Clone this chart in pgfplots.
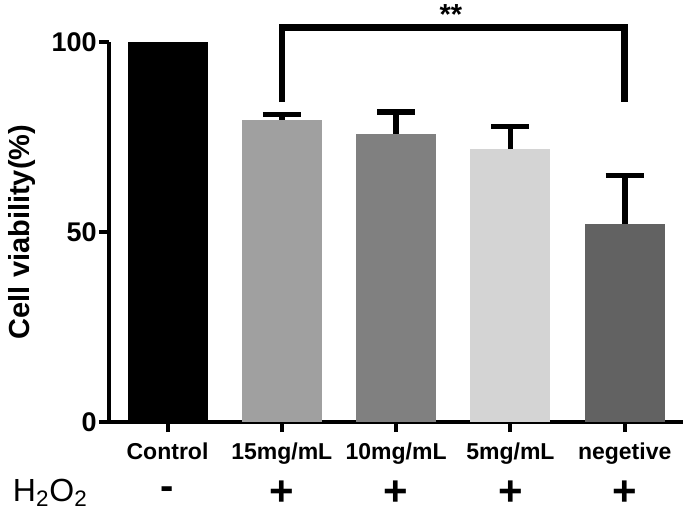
\documentclass[border=0pt]{standalone}
\usepackage{pgfplots}
\pgfplotsset{compat=1.18}
\usepackage{fontspec}
\setmainfont{Liberation Sans}
\definecolor{cA}{RGB}{160,160,160}
\definecolor{cB}{RGB}{128,128,128}
\definecolor{cC}{RGB}{212,212,212}
\definecolor{cD}{RGB}{98,98,98}
\pgfplotsset{
  myerr/.style={error bars/.cd, y dir=plus, y explicit, error mark=|,
    error bar style={line width=2.8pt, black, solid},
    error mark options={line width=2.6pt, mark size=9.5pt, black, solid}}
}
\begin{document}
\begin{tikzpicture}
\useasboundingbox (-54.5pt,-45.5pt) rectangle (288pt,211pt);
\begin{axis}[
  at={(0pt,0pt)}, anchor=south west,
  scale only axis, width=287pt, height=190pt,
  xmin=-0.512, xmax=4.51, ymin=0, ymax=100,
  axis x line*=bottom, axis y line*=left,
  axis line style={line width=2pt, -},
  ytick={0,50,100},
  xtick={0,1,2,3,4},
  xticklabels={Control,15mg/mL,10mg/mL,5mg/mL,negetive},
  tick style={line width=2pt, black},
  tick align=outside,
  major tick length=5pt,
  /pgf/number format/assume math mode=true,
  yticklabel style={font=\bfseries\fontsize{13.5}{14}\selectfont, inner sep=1pt},
  xticklabel style={font=\bfseries\fontsize{11.5}{12}\selectfont, inner sep=1pt, yshift=-4pt},
  ylabel={Cell viability(\%)},
  every axis y label/.style={at={(axis description cs:0,0.5)}, rotate=90, anchor=north, inner sep=0pt, yshift=50.5pt, font=\bfseries\fontsize{14.5}{15}\selectfont},
  ybar, bar width=0.7, bar shift=0pt,
  clip=false,
]
\addplot[fill=black, draw=none] coordinates {(0,100)};
\addplot[fill=cA, draw=none, myerr] coordinates {(1,79.5) +- (0,1.5)};
\addplot[fill=cB, draw=none, myerr] coordinates {(2,75.8) +- (0,5.8)};
\addplot[fill=cC, draw=none, myerr] coordinates {(3,71.8) +- (0,6.0)};
\addplot[fill=cD, draw=none, myerr] coordinates {(4,52.1) +- (0,12.8)};
\draw[line width=3.3pt] (axis cs:1,84.2) -- (axis cs:1,103.8) -- (axis cs:4,103.8) -- (axis cs:4,84.2);
\node[font=\bfseries\fontsize{14.5}{14}\selectfont, anchor=north, inner sep=0pt] at (axis cs:2.48,110) {**};
\node[anchor=west, inner sep=0pt, font=\fontsize{16}{16}\selectfont] at (axis cs:-1.356,-18.6) {H\textsubscript{2}O\textsubscript{2}};
\node[font=\bfseries\fontsize{20}{20}\selectfont] at (axis cs:0,-18.7) {-};
\node[font=\bfseries\fontsize{21}{21}\selectfont] at (axis cs:1,-18.7) {+};
\node[font=\bfseries\fontsize{21}{21}\selectfont] at (axis cs:2,-18.7) {+};
\node[font=\bfseries\fontsize{21}{21}\selectfont] at (axis cs:3,-18.7) {+};
\node[font=\bfseries\fontsize{21}{21}\selectfont] at (axis cs:4,-18.7) {+};
\end{axis}
\end{tikzpicture}
\end{document}
